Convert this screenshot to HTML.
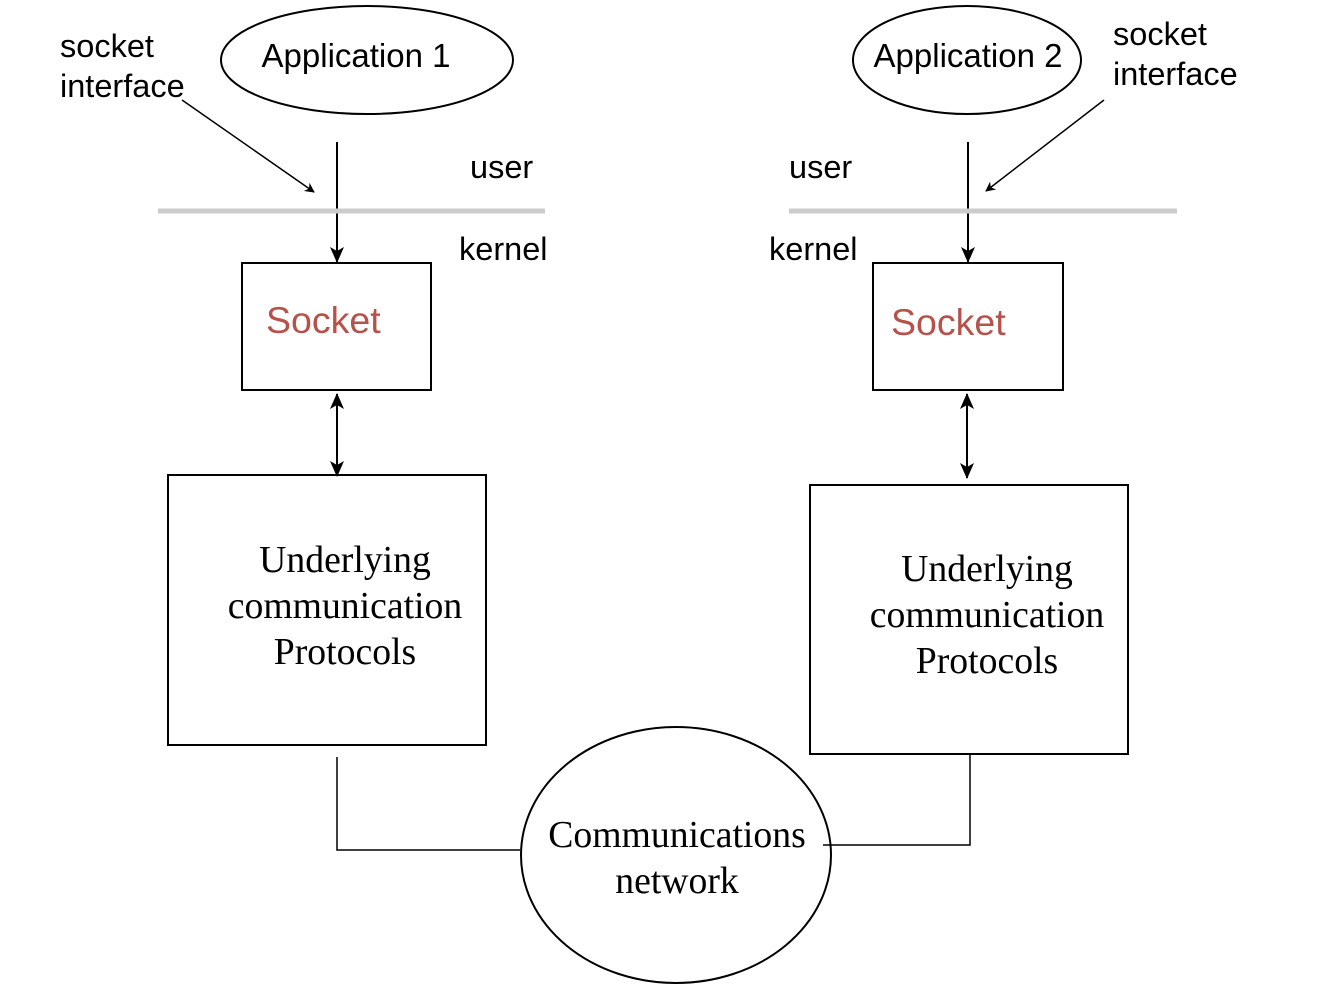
<!DOCTYPE html>
<html><head><style>body{margin:0;background:#fff}</style></head><body>
<svg width="1338" height="996" xmlns="http://www.w3.org/2000/svg">
<defs><marker id="a" markerWidth="10" markerHeight="10" refX="9" refY="5" orient="auto" markerUnits="userSpaceOnUse"><path d="M0,0 L10,5 L0,10 L3,5 z" fill="#000"/></marker>
<marker id="b" markerWidth="16" markerHeight="14" refX="15" refY="7" orient="auto-start-reverse" markerUnits="userSpaceOnUse"><path d="M0,0 L16,7 L0,14 L4,7 z" fill="#000"/></marker></defs>
<g fill="none" stroke="#000" stroke-width="2">
<ellipse cx="367" cy="60" rx="146" ry="54"/>
<ellipse cx="967" cy="60" rx="114" ry="54"/>
<ellipse cx="676" cy="855" rx="155" ry="128"/>
<rect x="242" y="263" width="189" height="127"/>
<rect x="873" y="263" width="190" height="127"/>
<rect x="168" y="475" width="318" height="270"/>
<rect x="810" y="485" width="318" height="269"/>
<polyline points="337,757 337,850 520,850" stroke-width="1.5"/>
<polyline points="970,755 970,845 823,845" stroke-width="1.5"/>
<line x1="182" y1="100" x2="314" y2="192" stroke-width="1.5" marker-end="url(#a)"/>
<line x1="1104" y1="100" x2="986" y2="191" stroke-width="1.5" marker-end="url(#a)"/>
<line x1="337" y1="142" x2="337" y2="262" marker-end="url(#b)"/>
<line x1="968" y1="142" x2="968" y2="262" marker-end="url(#b)"/>
<line x1="337" y1="394" x2="337" y2="476" marker-start="url(#b)" marker-end="url(#b)"/>
<line x1="967" y1="394" x2="967" y2="478" marker-start="url(#b)" marker-end="url(#b)"/>
</g>
<line x1="158" y1="211" x2="545" y2="211" stroke="#ccc" stroke-width="5"/>
<line x1="789" y1="211" x2="1177" y2="211" stroke="#ccc" stroke-width="5"/>
<g font-family="Liberation Sans, sans-serif" font-size="32.5" fill="#000">
<text x="356" y="67" text-anchor="middle" font-size="33">Application 1</text>
<text x="968" y="67" text-anchor="middle" font-size="33">Application 2</text>
<text x="60" y="57">socket</text><text x="60" y="97">interface</text>
<text x="1113" y="45">socket</text><text x="1113" y="85">interface</text>
<text x="470" y="178">user</text><text x="459" y="260">kernel</text>
<text x="789" y="178">user</text><text x="769" y="260">kernel</text>
<text x="266" y="333" fill="#b5524a" font-size="37.5">Socket</text>
<text x="891" y="335" fill="#b5524a" font-size="37.5">Socket</text>
</g>
<g font-family="Liberation Serif, serif" font-size="37.7" fill="#000" text-anchor="middle">
<text x="345" y="572">Underlying</text><text x="345" y="618">communication</text><text x="345" y="664">Protocols</text>
<text x="987" y="581">Underlying</text><text x="987" y="627">communication</text><text x="987" y="673">Protocols</text>
<text x="677" y="847">Communications</text><text x="677" y="893">network</text>
</g>
</svg>
</body></html>
